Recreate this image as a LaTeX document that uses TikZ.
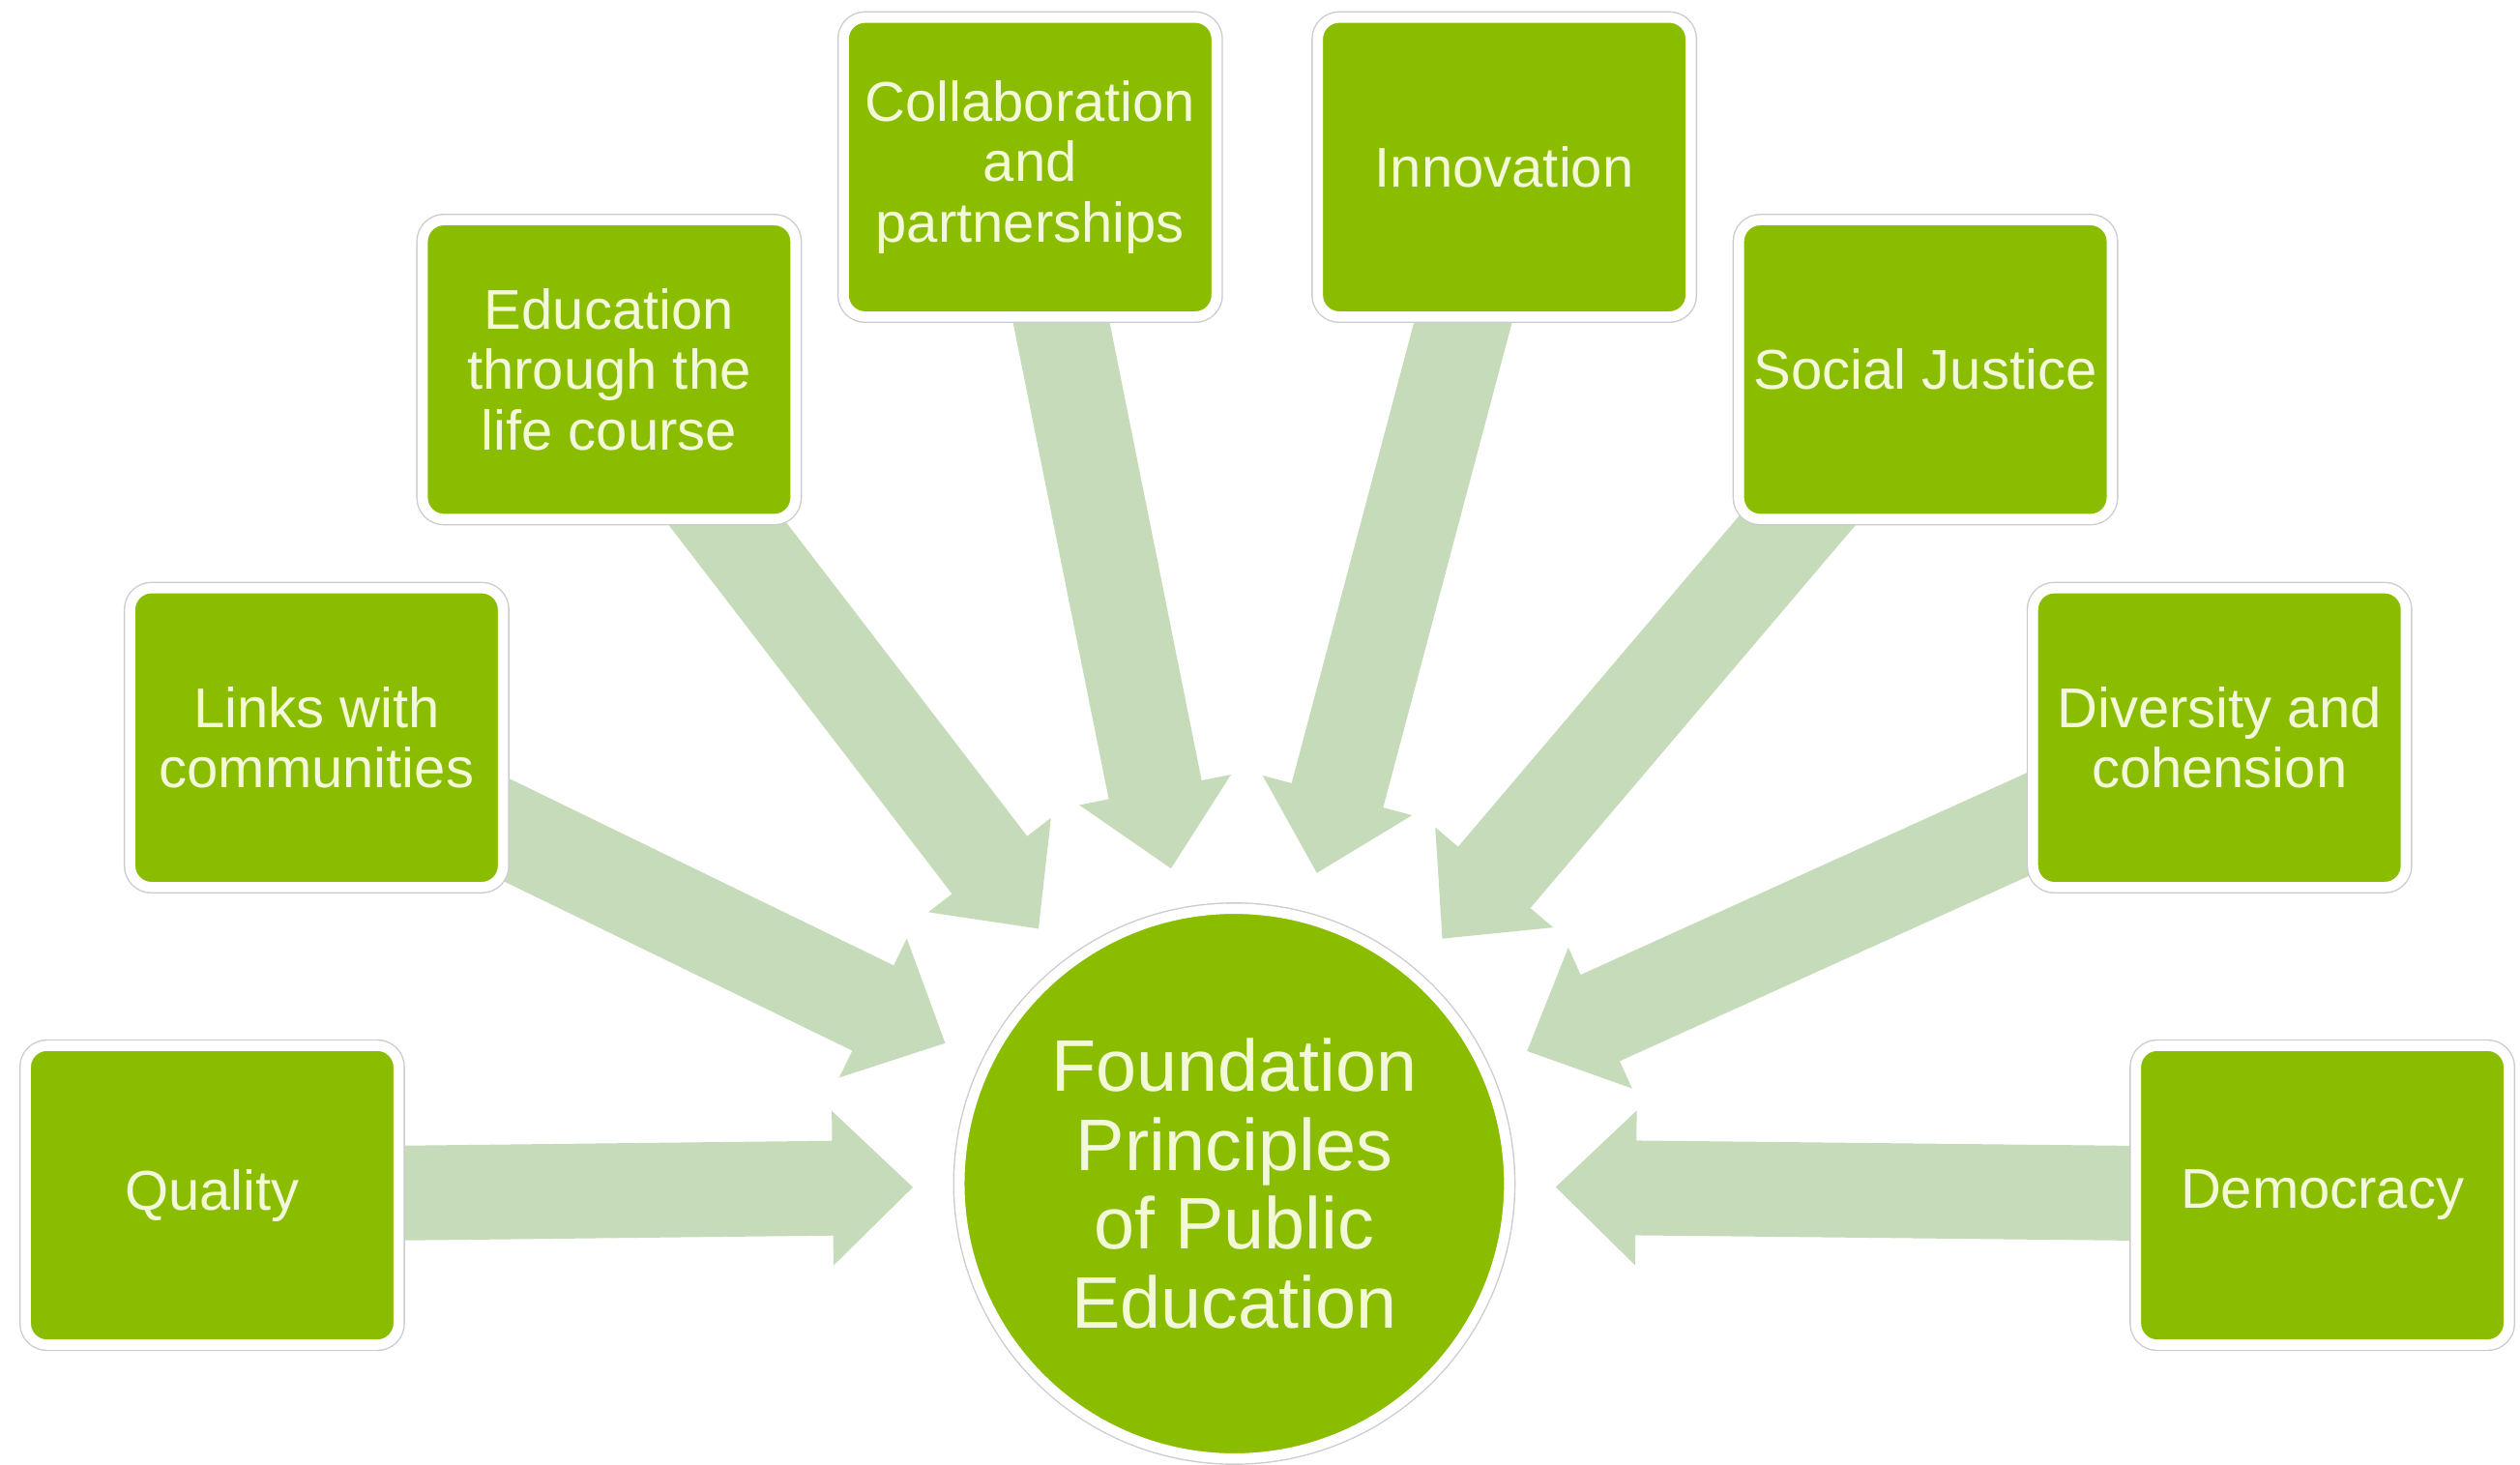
\documentclass[tikz,border=0pt]{standalone}
\usepackage{fontspec}
\setmainfont{Liberation Sans}
\usetikzlibrary{calc,backgrounds}
\definecolor{leaf}{RGB}{138,189,0}
\definecolor{sage}{RGB}{198,219,185}
\definecolor{cream}{RGB}{242,248,216}

\begin{document}
\begin{tikzpicture}[
        principle/.style={rectangle, rounded corners=0.22cm, fill=leaf, draw=white,
            line width=3pt, preaction={draw=black!20, line width=3.8pt},
            text=cream, align=center, inner sep=2pt,
            minimum width=3.855cm, minimum height=3.09cm,
            font=\fontsize{16.5}{17.8}\selectfont},
        hubnode/.style={circle, fill=leaf, draw=white,
            line width=3pt, preaction={draw=black!20, line width=3.8pt},
            text=cream, align=center, inner sep=0pt, minimum size=5.684cm,
            font=\fontsize{21.5}{23.3}\selectfont},
        shaft/.style={fill=sage}]
        \useasboundingbox (0,0) rectangle (26.06,15.14);
        \node[hubnode] (hub) at (12.764,2.9) {Foundation\\Principles\\of Public\\Education};
        \node[principle] (quality) at (2.194,2.78) {Quality};
        \node[principle] (links) at (3.274,7.512) {Links with\\communities};
        \node[principle] (lifecourse) at (6.299,11.318) {Education\\through the\\life course};
        \node[principle] (collab) at (10.653,13.412) {Collaboration\\and\\partnerships};
        \node[principle] (innov) at (15.556,13.412) {Innovation};
        \node[principle] (justice) at (19.911,11.318) {Social Justice};
        \node[principle] (diversity) at (22.952,7.512) {Diversity and\\cohension};
        \node[principle] (democracy) at (24.016,2.78) {Democracy};
        \begin{scope}[on background layer]
            \foreach \src in {quality,links,lifecourse,collab,innov,justice,diversity,democracy}{
                \coordinate (tip) at ($(hub)!3.324cm!(\src)$);
                \coordinate (neck) at ($(tip)!0.83cm!(\src)$);
                \fill[shaft] ($(\src)!0.49cm!90:(tip)$) -- ($(neck)!0.49cm!90:(tip)$)
                    -- ($(neck)!0.8cm!90:(tip)$) -- (tip) -- ($(neck)!0.8cm!-90:(tip)$)
                    -- ($(neck)!0.49cm!-90:(tip)$) -- ($(\src)!0.49cm!-90:(tip)$) -- cycle;
            }
        \end{scope}
    \end{tikzpicture}
\end{document}
